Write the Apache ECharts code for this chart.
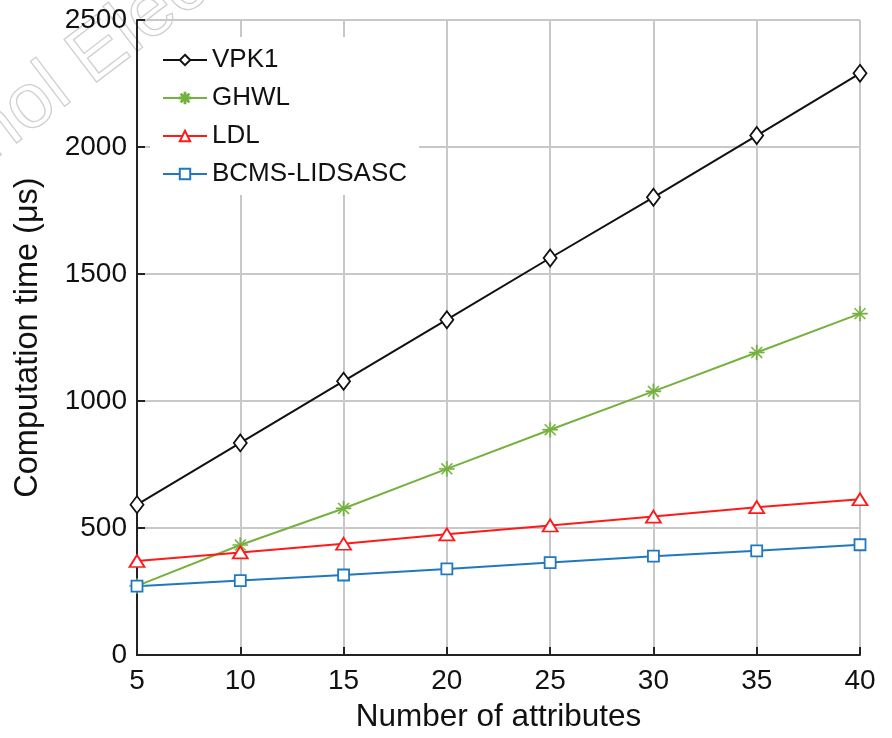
<!DOCTYPE html>
<html>
<head>
<meta charset="utf-8">
<style>
  html, body { margin: 0; padding: 0; background: #fff; }
  #container { width: 892px; height: 738px; }
</style>
<script src="https://cdn.jsdelivr.net/npm/echarts@6/dist/echarts.min.js"></script>
</head>
<body>
<div id="container"></div>
<script>
var attributes = [5, 10, 15, 20, 25, 30, 35, 40];
var vpk1 = [592, 835, 1078, 1320, 1563, 1802, 2045, 2290];
var ghwl = [272, 433, 577, 733, 887, 1038, 1191, 1344];
var ldl = [370, 404, 438, 475, 510, 545, 582, 613];
var bcms = [271, 293, 315, 339, 364, 389, 410, 434];

function pairs(ys) {
    return attributes.map(function (x, i) { return [x, ys[i]]; });
}

// asterisk marker (MATLAB style '*')
var asterisk = 'path://M9.2 0L10.8 0L10.8 20L9.2 20Z M0 9.2L20 9.2L20 10.8L0 10.8Z ' +
    'M2.4 3.5L3.5 2.4L17.6 16.5L16.5 17.6Z M16.5 2.4L17.6 3.5L3.5 17.6L2.4 16.5Z';

var dom = document.getElementById('container');
var myChart = echarts.init(dom);

var gridColor = '#c8c8c8';

option = {
    animation: false,
    backgroundColor: '#fff',
    textStyle: { fontFamily: 'Liberation Sans, Arial, sans-serif' },
    graphic: [{
        type: 'text',
        x: 2,
        y: 176,
        rotation: 0.65,
        z: 0,
        style: {
            text: 'nol Elec',
            font: '78px "Liberation Sans", Arial, sans-serif',
            fill: 'transparent',
            stroke: '#cfcfcf',
            lineWidth: 1.3,
            textVerticalAlign: 'bottom'
        }
    }],
    grid: {
        left: 137,
        right: 32,
        top: 20,
        bottom: 81,
        containLabel: false
    },
    legend: {
        orient: 'vertical',
        left: 150,
        top: 37,
        padding: [10, 12, 8, 12],
        itemGap: 12,
        itemWidth: 44,
        itemHeight: 13,
        backgroundColor: '#fff',
        z: 5,
        textStyle: {
            fontSize: 26,
            color: '#111',
            lineHeight: 26
        },
        data: ['VPK1', 'GHWL', 'LDL', 'BCMS-LIDSASC']
    },
    xAxis: {
        type: 'value',
        min: 5,
        max: 40,
        interval: 5,
        name: 'Number of attributes',
        nameLocation: 'middle',
        nameGap: 46,
        nameTextStyle: { fontSize: 31.5, color: '#111' },
        axisLine: { lineStyle: { color: '#222', width: 2 } },
        axisTick: { inside: true, length: 8, lineStyle: { color: '#222', width: 2 } },
        axisLabel: { fontSize: 28, color: '#111', margin: 12 },
        splitLine: { show: true, lineStyle: { color: gridColor, width: 2 } }
    },
    yAxis: {
        type: 'value',
        min: 0,
        max: 2500,
        interval: 500,
        name: 'Computation time (μs)',
        nameLocation: 'middle',
        nameGap: 92,
        nameTextStyle: { fontSize: 32.5, color: '#111' },
        axisLine: { show: true, lineStyle: { color: '#222', width: 2 } },
        axisTick: { show: true, inside: true, length: 8, lineStyle: { color: '#222', width: 2 } },
        axisLabel: {
            fontSize: 28,
            color: '#111',
            margin: 10,
            formatter: function (v) { return String(v); }
        },
        splitLine: { show: true, lineStyle: { color: gridColor, width: 2 } }
    },
    series: [{
        name: 'VPK1',
        type: 'line',
        data: pairs(vpk1),
        symbol: 'diamond',
        symbolSize: [13, 17],
        lineStyle: { color: '#111', width: 2 },
        itemStyle: { color: '#fff', borderColor: '#111', borderWidth: 1.8 },
        z: 4
    }, {
        name: 'GHWL',
        type: 'line',
        data: pairs(ghwl),
        symbol: asterisk,
        symbolSize: 15,
        lineStyle: { color: '#74b13f', width: 2 },
        itemStyle: { color: '#74b13f', borderColor: '#74b13f', borderWidth: 0.5 },
        z: 3
    }, {
        name: 'LDL',
        type: 'line',
        data: pairs(ldl),
        symbol: 'triangle',
        symbolSize: [15, 12],
        lineStyle: { color: '#ff1a1a', width: 2 },
        itemStyle: { color: '#fff', borderColor: '#ff1a1a', borderWidth: 1.8 },
        z: 3
    }, {
        name: 'BCMS-LIDSASC',
        type: 'line',
        data: pairs(bcms),
        symbol: 'rect',
        symbolSize: 11,
        lineStyle: { color: '#1f78c1', width: 2 },
        itemStyle: { color: '#fff', borderColor: '#1f78c1', borderWidth: 1.8 },
        z: 3
    }]
};

if (option && typeof option === 'object') {
    myChart.setOption(option, true);
}
</script>
</body>
</html>
